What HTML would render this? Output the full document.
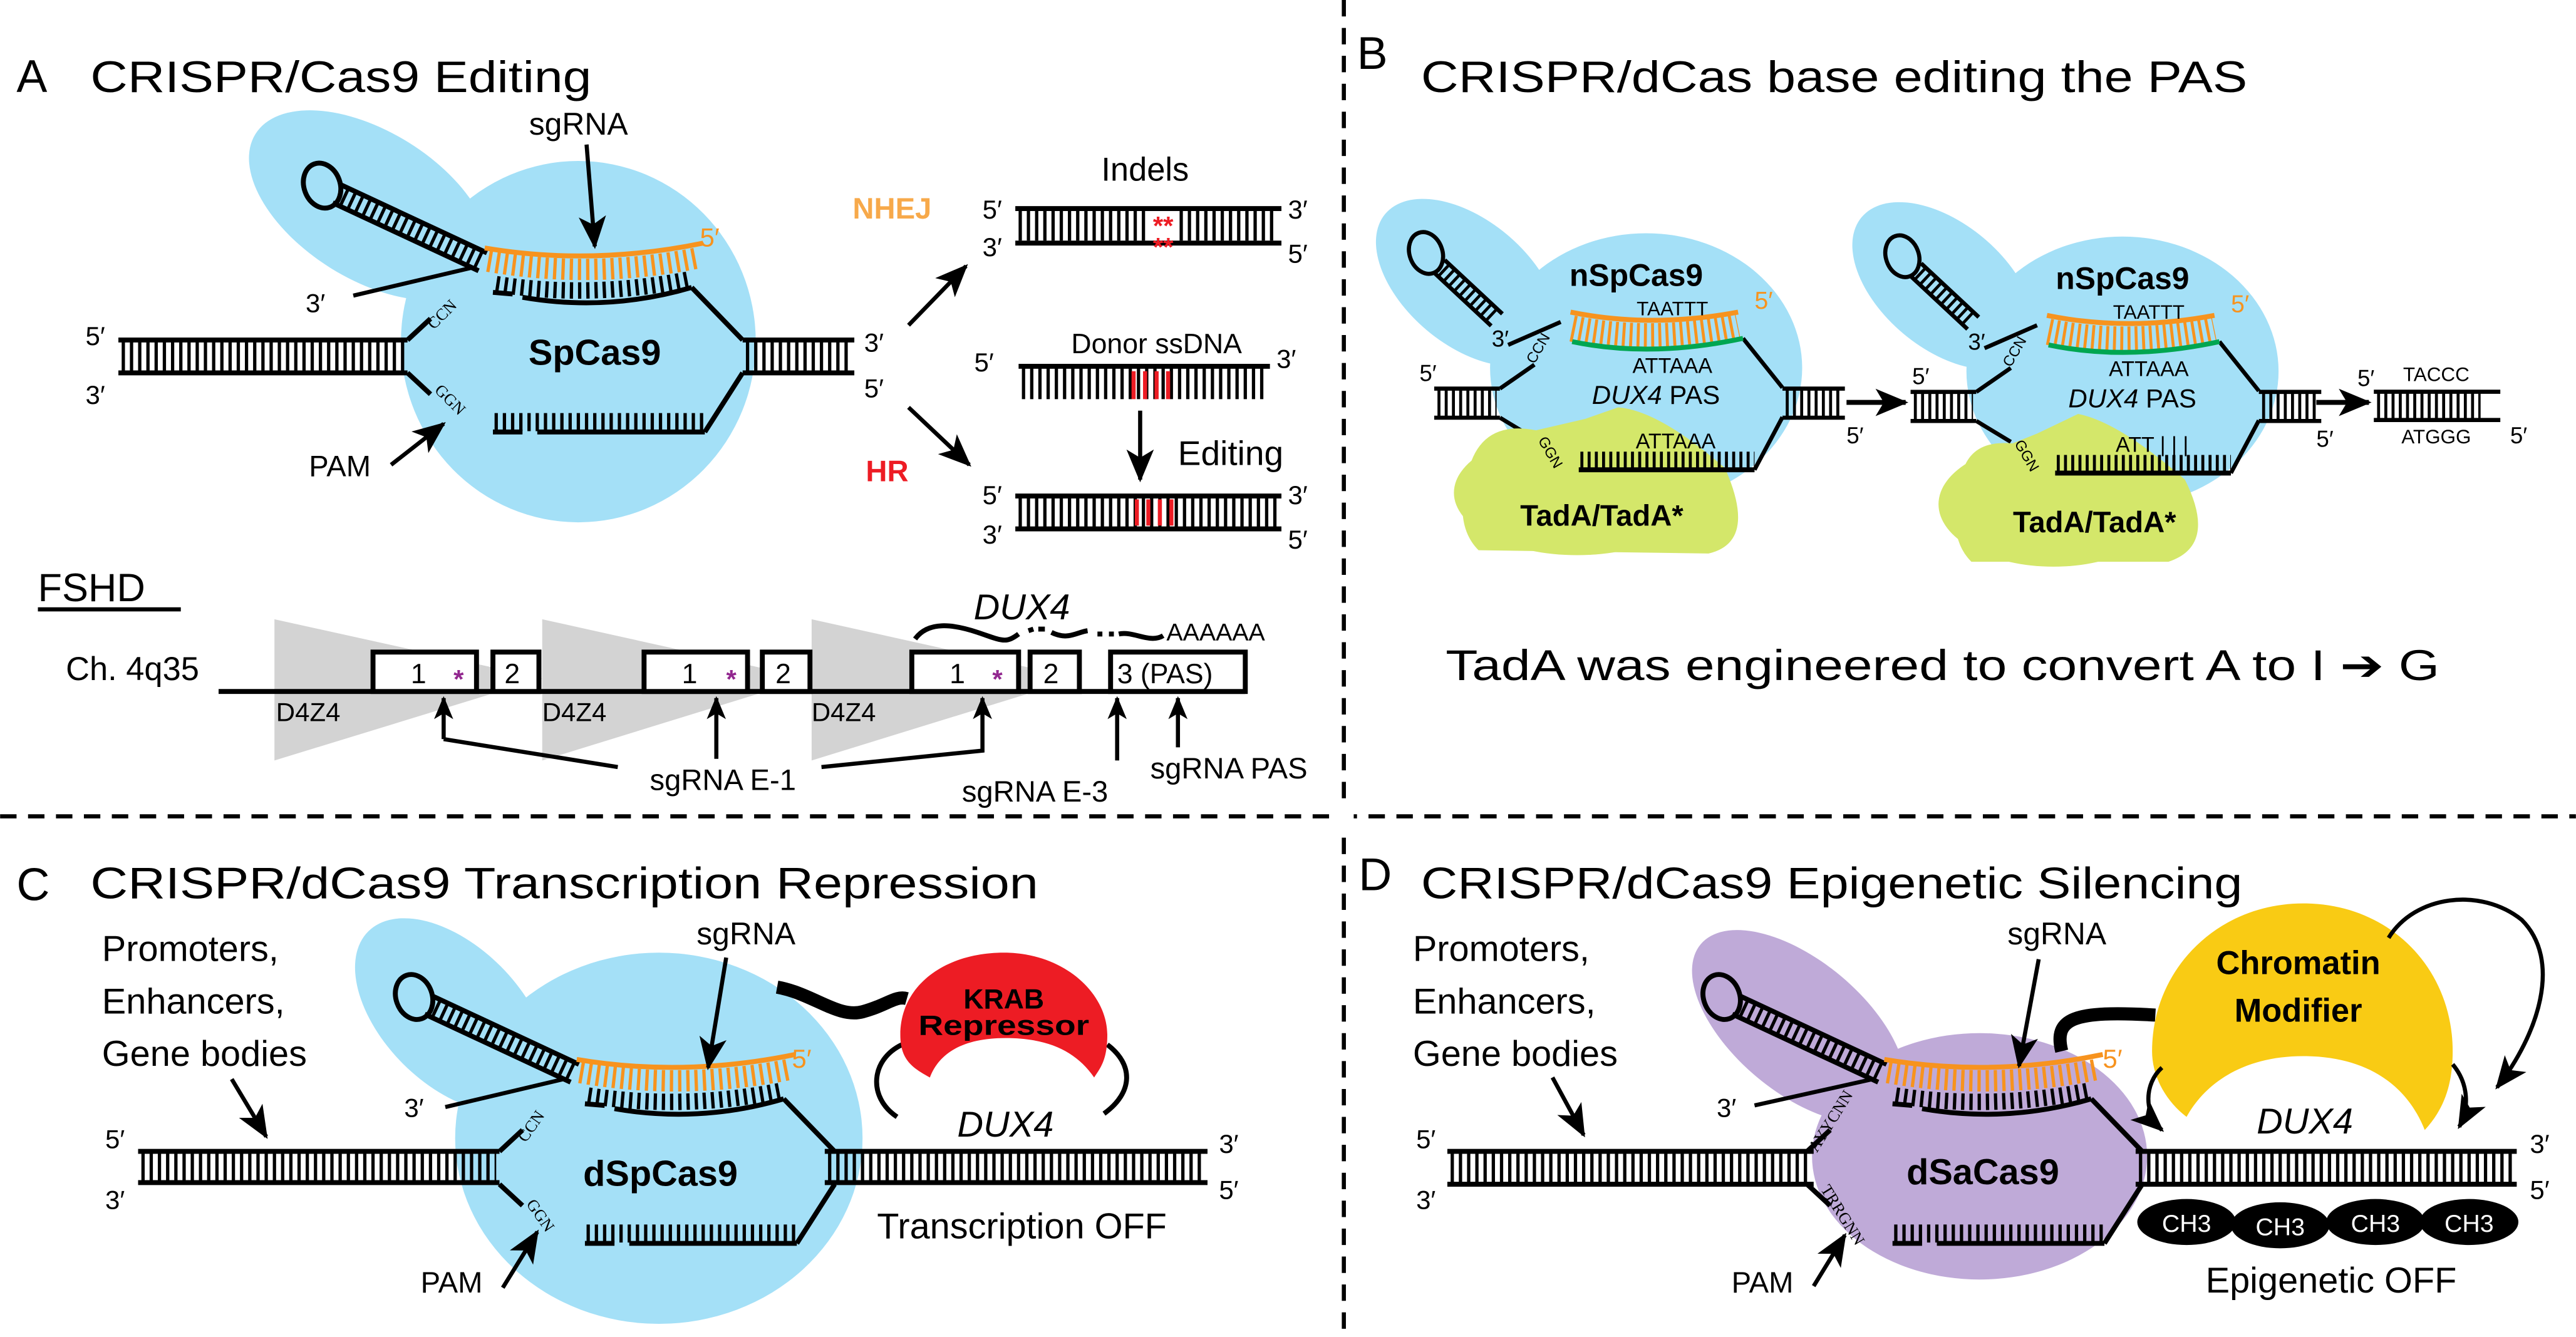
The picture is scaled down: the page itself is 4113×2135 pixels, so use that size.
<!DOCTYPE html>
<html><head><meta charset="utf-8"><style>
html,body{margin:0;padding:0;background:#fff;}
svg{display:block;font-family:"Liberation Sans",Arial,sans-serif;}
</style></head><body>
<svg width="4113" height="2135" viewBox="0 0 1568 814" xmlns="http://www.w3.org/2000/svg">
<defs>
<marker id="a" viewBox="0 0 12 10" refX="11" refY="5" markerWidth="14" markerHeight="12" markerUnits="userSpaceOnUse" orient="auto"><path d="M0,0 L12,5 L0,10 L3,5z" fill="#000"/></marker>
<marker id="ab" viewBox="0 0 12 10" refX="11" refY="5" markerWidth="20" markerHeight="18" markerUnits="userSpaceOnUse" orient="auto"><path d="M0,0 L12,5 L0,10 L3,5z" fill="#000"/></marker>
<g id="core" fill="none" stroke="#000" stroke-width="3">
  <ellipse cx="196" cy="113" rx="11" ry="14" transform="rotate(-20 196 113)"/>
  <g transform="translate(205,118) rotate(25)">
    <line x1="0" y1="-6" x2="98" y2="-6"/><line x1="0" y1="6" x2="98" y2="6"/>
    <line x1="4" y1="0" x2="96" y2="0" stroke-width="11" stroke-dasharray="2 3"/>
  </g>
  <path d="M295,151 Q360,162 428,148" stroke="#f7931e"/>
  <path d="M297,159 Q360,170 425,157" stroke="#f7931e" stroke-width="13" stroke-dasharray="2 3"/>
  <path d="M302,173 Q360,182 420,170" stroke-width="10" stroke-dasharray="2 3"/>
  <line x1="300" y1="178" x2="312" y2="179"/>
  <path d="M318,181 Q370,190 421,175"/>
  <line x1="421" y1="175" x2="452" y2="207"/>
  <line x1="248" y1="207" x2="262" y2="194"/>
  <line x1="248" y1="227" x2="262" y2="240"/>
  <line x1="300" y1="263" x2="318" y2="263"/>
  <line x1="327" y1="263" x2="429" y2="263"/>
  <line x1="301" y1="257" x2="429" y2="257" stroke-width="11" stroke-dasharray="2 3"/>
  <line x1="429" y1="263" x2="452" y2="227"/>
</g>
</defs>

<line x1="818" y1="0" x2="818" y2="814" stroke="#000" stroke-width="2.5" stroke-dasharray="10 7"/>
<line x1="0" y1="497" x2="1568" y2="497" stroke="#000" stroke-width="2.5" stroke-dasharray="10 7"/>
<rect x="812" y="490" width="12" height="14" fill="#fff"/>

<!-- ============ PANEL A ============ -->
<text x="10" y="56" font-size="28">A</text>
<text x="55" y="56" font-size="27" textLength="305" lengthAdjust="spacingAndGlyphs">CRISPR/Cas9 Editing</text>
<ellipse cx="352" cy="208" rx="108" ry="110" fill="#a4e0f7"/>
<ellipse cx="225" cy="125" rx="82" ry="45" transform="rotate(32 225 125)" fill="#a4e0f7"/>
<use href="#core"/>
<g stroke="#000" fill="none" stroke-width="3">
<line x1="72" y1="207" x2="248" y2="207"/><line x1="72" y1="227" x2="248" y2="227"/>
<line x1="74" y1="217" x2="246" y2="217" stroke-width="20" stroke-dasharray="2 3"/>
<line x1="452" y1="207" x2="520" y2="207"/><line x1="452" y1="227" x2="520" y2="227"/>
<line x1="454" y1="217" x2="518" y2="217" stroke-width="20" stroke-dasharray="2 3"/>
<line x1="215" y1="180" x2="287" y2="163" stroke-width="2.5"/>
<line x1="357" y1="88" x2="362" y2="150" stroke-width="2.5" marker-end="url(#ab)"/>
<line x1="238" y1="283" x2="270" y2="258" stroke-width="2.5" marker-end="url(#ab)"/>
<line x1="553" y1="198" x2="588" y2="162" stroke-width="2.5" marker-end="url(#ab)"/>
<line x1="553" y1="248" x2="590" y2="283" stroke-width="2.5" marker-end="url(#ab)"/>
<line x1="694" y1="250" x2="694" y2="292" stroke-width="2.5" marker-end="url(#ab)"/>
</g>
<text x="322" y="82" font-size="19">sgRNA</text>
<text x="426" y="150" font-size="16" fill="#f7931e">5′</text>
<text x="186" y="190" font-size="16">3′</text>
<text x="52" y="210" font-size="16">5′</text>
<text x="52" y="246" font-size="16">3′</text>
<text x="526" y="214" font-size="16">3′</text>
<text x="526" y="242" font-size="16">5′</text>
<text x="264" y="201" font-size="10" font-family="Liberation Serif" transform="rotate(-45 264 201)">CCN</text>
<text x="264" y="238" font-size="10" font-family="Liberation Serif" transform="rotate(45 264 238)">GGN</text>
<text x="362" y="222" font-size="22" font-weight="bold" text-anchor="middle">SpCas9</text>
<text x="188" y="290" font-size="18">PAM</text>
<text x="519" y="133" font-size="18" font-weight="bold" fill="#f7a94a">NHEJ</text>
<text x="527" y="293" font-size="18" font-weight="bold" fill="#ed1c24">HR</text>
<text x="697" y="110" font-size="20" text-anchor="middle">Indels</text>
<g stroke="#000" stroke-width="3" fill="none">
<line x1="618" y1="127" x2="780" y2="127"/><line x1="618" y1="148" x2="780" y2="148"/>
<line x1="620" y1="137.5" x2="698" y2="137.5" stroke-width="18" stroke-dasharray="2 3"/>
<line x1="718" y1="137.5" x2="778" y2="137.5" stroke-width="18" stroke-dasharray="2 3"/>
<line x1="620" y1="223" x2="773" y2="223"/>
<line x1="622" y1="233" x2="772" y2="233" stroke-width="20" stroke-dasharray="2 3"/>
<line x1="618" y1="302" x2="780" y2="302"/><line x1="618" y1="322" x2="780" y2="322"/>
<line x1="620" y1="312" x2="778" y2="312" stroke-width="18" stroke-dasharray="2 3"/>
</g>
<text x="708" y="143" font-size="16" fill="#ed1c24" text-anchor="middle" font-weight="bold">**</text>
<text x="708" y="156" font-size="16" fill="#ed1c24" text-anchor="middle" font-weight="bold">**</text>
<g stroke="#ed1c24" stroke-width="2.5"><line x1="690" y1="226" x2="690" y2="243"/><line x1="697" y1="226" x2="697" y2="243"/><line x1="704" y1="226" x2="704" y2="243"/><line x1="711" y1="226" x2="711" y2="243"/>
<line x1="692" y1="304" x2="692" y2="320"/><line x1="699" y1="304" x2="699" y2="320"/><line x1="706" y1="304" x2="706" y2="320"/><line x1="713" y1="304" x2="713" y2="320"/></g>
<text x="598" y="133" font-size="16">5′</text><text x="598" y="156" font-size="16">3′</text>
<text x="784" y="133" font-size="16">3′</text><text x="784" y="160" font-size="16">5′</text>
<text x="704" y="215" font-size="17" text-anchor="middle">Donor ssDNA</text>
<text x="593" y="226" font-size="16">5′</text><text x="777" y="224" font-size="16">3′</text>
<text x="717" y="283" font-size="21">Editing</text>
<text x="598" y="307" font-size="16">5′</text><text x="598" y="331" font-size="16">3′</text>
<text x="784" y="307" font-size="16">3′</text><text x="784" y="334" font-size="16">5′</text>
<text x="23" y="366" font-size="24">FSHD</text>
<line x1="23" y1="371" x2="110" y2="371" stroke="#000" stroke-width="2.5"/>
<text x="40" y="414" font-size="20">Ch. 4q35</text>
<g fill="#d3d3d3"><path d="M167,377 L167,463 L330,413 Z"/><path d="M330,377 L330,463 L492,413 Z"/><path d="M494,377 L494,463 L656,413 Z"/></g>
<line x1="133" y1="421" x2="758" y2="421" stroke="#000" stroke-width="3"/>
<g fill="#fff" stroke="#000" stroke-width="3">
<rect x="227" y="397" width="63" height="24"/><rect x="300" y="397" width="28" height="24"/>
<rect x="392" y="397" width="63" height="24"/><rect x="464" y="397" width="29" height="24"/>
<rect x="555" y="397" width="65" height="24"/><rect x="627" y="397" width="30" height="24"/>
<rect x="676" y="397" width="82" height="24"/>
</g>
<g font-size="17"><text x="250" y="416">1</text><text x="307" y="416">2</text><text x="415" y="416">1</text><text x="472" y="416">2</text><text x="578" y="416">1</text><text x="635" y="416">2</text><text x="680" y="416">3 (PAS)</text></g>
<g font-size="16" fill="#92278f" font-weight="bold"><text x="276" y="419">*</text><text x="442" y="419">*</text><text x="604" y="419">*</text></g>
<g font-size="16"><text x="168" y="439">D4Z4</text><text x="330" y="439">D4Z4</text><text x="494" y="439">D4Z4</text></g>
<text x="622" y="377" font-size="22" font-style="italic" text-anchor="middle">DUX4</text>
<path d="M557,389 C565,378 580,380 595,385 S612,392 620,386 M626,384 l3,-1 M632,383 l4,0 M640,385 C650,390 655,385 662,384 M668,386 l3,0 M675,386 l3,0 M681,386 C690,384 700,392 708,387" fill="none" stroke="#000" stroke-width="3"/>
<text x="710" y="390" font-size="15">AAAAAA</text>
<g stroke="#000" stroke-width="2.5" fill="none">
<path d="M270,450 L270,425" marker-end="url(#a)"/>
<path d="M270,450 L376,467"/>
<path d="M436,462 L436,425" marker-end="url(#a)"/>
<path d="M500,467 L598,457 L598,425" marker-end="url(#a)"/>
<path d="M680,463 L680,425" marker-end="url(#a)"/>
<path d="M717,455 L717,425" marker-end="url(#a)"/>
</g>
<text x="440" y="481" font-size="18" text-anchor="middle">sgRNA E-1</text>
<text x="630" y="488" font-size="18" text-anchor="middle">sgRNA E-3</text>
<text x="748" y="474" font-size="18" text-anchor="middle">sgRNA PAS</text>

<!-- ============ PANEL B ============ -->
<text x="826" y="42" font-size="28">B</text>
<text x="865" y="56" font-size="27" textLength="503" lengthAdjust="spacingAndGlyphs">CRISPR/dCas base editing the PAS</text>
<g id="bcx">
<ellipse cx="1002" cy="224" rx="95" ry="82" fill="#a4e0f7"/>
<ellipse cx="893" cy="172" rx="65" ry="38" transform="rotate(40 893 172)" fill="#a4e0f7"/>
<g fill="none" stroke="#000" stroke-width="2.5">
<ellipse cx="868" cy="154" rx="10" ry="13" transform="rotate(-20 868 154)"/>
<g transform="translate(876,162) rotate(43)"><line x1="0" y1="-5" x2="48" y2="-5"/><line x1="0" y1="5" x2="48" y2="5"/><line x1="3" y1="0" x2="47" y2="0" stroke-width="9" stroke-dasharray="1.8 2.6"/></g>
<line x1="913" y1="236.6" x2="934" y2="222"/><line x1="913" y1="254.3" x2="934" y2="267"/>
<line x1="873" y1="236.6" x2="913" y2="236.6"/><line x1="873" y1="254.3" x2="913" y2="254.3"/>
<line x1="875" y1="245.5" x2="911" y2="245.5" stroke-width="17" stroke-dasharray="1.8 2.6"/>
<line x1="1085" y1="236.6" x2="1123" y2="236.6"/><line x1="1085" y1="254.3" x2="1123" y2="254.3"/>
<line x1="1087" y1="245.5" x2="1121" y2="245.5" stroke-width="17" stroke-dasharray="1.8 2.6"/>
<line x1="1061" y1="206" x2="1085" y2="236"/><line x1="1068" y1="286" x2="1085" y2="254"/>
<line x1="918" y1="210" x2="950" y2="196"/>
</g>
</g>
<ellipse cx="960" cy="300" rx="75" ry="38" fill="#d4e76a"/>
<path d="M893,290 Q900,255 935,262 L965,255 L985,248 Q1010,250 1050,285 Q1070,330 1040,337 L900,335 Q885,320 893,290Z" fill="#d4e76a"/>
<g fill="none" stroke-width="3">
<path d="M956,190 Q1005,200 1058,190" stroke="#f7931e"/>
<path d="M957,200 Q1005,210 1058,199" stroke="#f7931e" stroke-width="16" stroke-dasharray="1.8 2.6"/>
<path d="M957,208 Q1005,218 1061,206" stroke="#00a651"/>
<line x1="961" y1="286" x2="1068" y2="286" stroke="#000"/>
<line x1="962" y1="280" x2="1068" y2="280" stroke="#000" stroke-width="10" stroke-dasharray="1.8 2.6"/>
</g>
<text x="996" y="174" font-size="19" font-weight="bold" text-anchor="middle">nSpCas9</text>
<text x="1018" y="192" font-size="12" text-anchor="middle">TAATTT</text>
<text x="1068" y="188" font-size="15" fill="#f7931e">5′</text>
<text x="1018" y="227" font-size="13" text-anchor="middle">ATTAAA</text>
<text x="1008" y="246" font-size="16" text-anchor="middle"><tspan font-style="italic">DUX4</tspan> PAS</text>
<text x="1020" y="273" font-size="13" text-anchor="middle">ATTAAA</text>
<text x="975" y="320" font-size="18" font-weight="bold" text-anchor="middle">TadA/TadA*</text>
<text x="908" y="211" font-size="14">3′</text>
<text x="864" y="232" font-size="14">5′</text>
<text x="934" y="222" font-size="9" transform="rotate(-60 934 222)">CCN</text>
<text x="936" y="268" font-size="9" transform="rotate(60 936 268)">GGN</text>
<g transform="translate(290,2)">
<use href="#bcx"/>
<ellipse cx="960" cy="305" rx="70" ry="38" fill="#d4e76a"/>
<path d="M903,295 Q905,265 935,268 L950,262 L975,250 Q1000,255 1040,290 Q1060,330 1030,340 L910,340 Q895,325 903,295Z" fill="#d4e76a"/>
<g fill="none" stroke-width="3">
<path d="M956,190 Q1005,200 1058,190" stroke="#f7931e"/>
<path d="M957,200 Q1005,210 1058,199" stroke="#f7931e" stroke-width="16" stroke-dasharray="1.8 2.6"/>
<path d="M957,208 Q1005,218 1061,206" stroke="#00a651"/>
<line x1="961" y1="286" x2="1068" y2="286" stroke="#000"/>
<line x1="962" y1="280" x2="1068" y2="280" stroke="#000" stroke-width="10" stroke-dasharray="1.8 2.6"/>
</g>
<text x="1002" y="174" font-size="19" font-weight="bold" text-anchor="middle">nSpCas9</text>
<text x="1018" y="192" font-size="12" text-anchor="middle">TAATTT</text>
<text x="1068" y="188" font-size="15" fill="#f7931e">5′</text>
<text x="1018" y="227" font-size="13" text-anchor="middle">ATTAAA</text>
<text x="1008" y="246" font-size="16" text-anchor="middle"><tspan font-style="italic">DUX4</tspan> PAS</text>
<text x="1020" y="273" font-size="13" text-anchor="middle">ATT | | |</text>
<text x="985" y="322" font-size="18" font-weight="bold" text-anchor="middle">TadA/TadA*</text>
<text x="908" y="211" font-size="14">3′</text>
<text x="874" y="232" font-size="14">5′</text>
<text x="934" y="222" font-size="9" transform="rotate(-60 934 222)">CCN</text>
<text x="936" y="268" font-size="9" transform="rotate(60 936 268)">GGN</text>
</g>
<g stroke="#000" stroke-width="3"><line x1="1124" y1="245" x2="1160" y2="245" marker-end="url(#ab)"/><line x1="1410" y1="245" x2="1442" y2="245" marker-end="url(#ab)"/></g>
<text x="1124" y="270" font-size="14">5′</text>
<text x="1410" y="272" font-size="14">5′</text>
<g stroke="#000" stroke-width="2.5" fill="none">
<line x1="1445" y1="238.5" x2="1522" y2="238.5"/><line x1="1445" y1="255.7" x2="1522" y2="255.7"/>
<line x1="1447" y1="247" x2="1510" y2="247" stroke-width="16" stroke-dasharray="1.8 2.6"/>
</g>
<text x="1483" y="232" font-size="12" text-anchor="middle">TACCC</text>
<text x="1483" y="270" font-size="12" text-anchor="middle">ATGGG</text>
<text x="1435" y="235" font-size="14">5′</text>
<text x="1528" y="270" font-size="14">5′</text>
<text x="880" y="414" font-size="26" textLength="605" lengthAdjust="spacingAndGlyphs">TadA was engineered to convert A to I ➔ G</text>

<!-- ============ PANEL C ============ -->
<text x="10" y="548" font-size="28">C</text>
<text x="55" y="547" font-size="27" textLength="577" lengthAdjust="spacingAndGlyphs">CRISPR/dCas9 Transcription Repression</text>
<ellipse cx="401" cy="693" rx="124" ry="113" fill="#a4e0f7"/>
<ellipse cx="275" cy="618" rx="72" ry="42" transform="rotate(45 275 618)" fill="#a4e0f7"/>
<use href="#core" transform="translate(56,494)"/>
<g stroke="#000" fill="none" stroke-width="3">
<line x1="84" y1="701" x2="304" y2="701"/><line x1="84" y1="720" x2="304" y2="720"/>
<line x1="86" y1="710.5" x2="302" y2="710.5" stroke-width="19" stroke-dasharray="2 3"/>
<line x1="502" y1="701" x2="735" y2="701"/><line x1="502" y1="720" x2="735" y2="720"/>
<line x1="504" y1="710.5" x2="733" y2="710.5" stroke-width="19" stroke-dasharray="2 3"/>
<line x1="271" y1="674" x2="343" y2="657" stroke-width="2.5"/>
<line x1="442" y1="583" x2="431" y2="650" stroke-width="2.5" marker-end="url(#ab)"/>
<line x1="141" y1="657" x2="162" y2="692" stroke-width="2.5" marker-end="url(#ab)"/>
<line x1="306" y1="784" x2="327" y2="750" stroke-width="2.5" marker-end="url(#ab)"/>
<path d="M473,601 C495,605 510,620 525,616 C540,612 545,606 552,608" stroke-width="8"/>
<path d="M549,636 C530,645 528,668 546,680"/>
<path d="M674,636 C690,648 690,665 672,678"/>
</g>
<path d="M548,630 C548,600 575,580 611,580 C648,580 674,605 674,630 C674,645 670,650 666,656 C655,640 638,632 612,632 C588,632 572,640 566,656 C555,650 548,645 548,630Z" fill="#ed1c24"/>
<text x="611" y="614" font-size="17" font-weight="bold" text-anchor="middle">KRAB</text>
<text x="611" y="630" font-size="17" font-weight="bold" text-anchor="middle" textLength="104" lengthAdjust="spacingAndGlyphs">Repressor</text>
<text x="62" y="585" font-size="22">Promoters,</text>
<text x="62" y="617" font-size="22">Enhancers,</text>
<text x="62" y="649" font-size="22">Gene bodies</text>
<text x="424" y="575" font-size="19">sgRNA</text>
<text x="482" y="650" font-size="16" fill="#f7931e">5′</text>
<text x="246" y="680" font-size="16">3′</text>
<text x="64" y="699" font-size="16">5′</text><text x="64" y="736" font-size="16">3′</text>
<text x="742" y="702" font-size="16">3′</text><text x="742" y="730" font-size="16">5′</text>
<text x="320" y="696" font-size="10" font-family="Liberation Serif" transform="rotate(-55 320 696)">CCN</text>
<text x="320" y="733" font-size="10" font-family="Liberation Serif" transform="rotate(55 320 733)">GGN</text>
<text x="402" y="722" font-size="22" font-weight="bold" text-anchor="middle">dSpCas9</text>
<text x="256" y="787" font-size="18">PAM</text>
<text x="612" y="692" font-size="22" font-style="italic" text-anchor="middle">DUX4</text>
<text x="622" y="754" font-size="22" text-anchor="middle">Transcription OFF</text>

<!-- ============ PANEL D ============ -->
<text x="827" y="542" font-size="28">D</text>
<text x="865" y="547" font-size="27" textLength="500" lengthAdjust="spacingAndGlyphs">CRISPR/dCas9 Epigenetic Silencing</text>
<ellipse cx="1205" cy="704" rx="102" ry="75" fill="#bfaad8"/>
<ellipse cx="1095" cy="625" rx="78" ry="40" transform="rotate(40 1095 625)" fill="#bfaad8"/>
<use href="#core" transform="translate(852,494)"/>
<g stroke="#000" fill="none" stroke-width="3">
<line x1="881" y1="701" x2="1104" y2="701"/><line x1="881" y1="721" x2="1104" y2="721"/>
<line x1="883" y1="711" x2="1102" y2="711" stroke-width="20" stroke-dasharray="2 3"/>
<line x1="1300" y1="701" x2="1532" y2="701"/><line x1="1300" y1="721" x2="1532" y2="721"/>
<line x1="1302" y1="711" x2="1530" y2="711" stroke-width="20" stroke-dasharray="2 3"/>
<line x1="1068" y1="673" x2="1140" y2="657" stroke-width="2.5"/>
<line x1="1241" y1="584" x2="1229" y2="649" stroke-width="2.5" marker-end="url(#ab)"/>
<line x1="945" y1="656" x2="964" y2="691" stroke-width="2.5" marker-end="url(#ab)"/>
<line x1="1104" y1="783" x2="1123" y2="752" stroke-width="2.5" marker-end="url(#ab)"/>
<path d="M1255,640 C1250,620 1262,615 1312,618" stroke-width="8"/>
</g>
<path d="M1310,640 C1310,590 1350,550 1402,550 C1455,550 1493,590 1493,640 C1493,660 1488,675 1476,688 C1465,660 1440,643 1402,643 C1365,643 1342,660 1331,680 C1318,670 1310,655 1310,640Z" fill="#f9cb14"/>
<g stroke="#000" fill="none" stroke-width="2.5">
<path d="M1454,571 C1470,545 1510,540 1535,560 C1560,585 1545,630 1520,662" marker-end="url(#ab)"/>
<path d="M1316,650 C1305,660 1305,678 1316,688" marker-end="url(#ab)"/>
<path d="M1493,648 C1503,660 1503,675 1497,686" marker-end="url(#ab)"/>
</g>
<text x="1399" y="593" font-size="20" font-weight="bold" text-anchor="middle">Chromatin</text>
<text x="1399" y="622" font-size="20" font-weight="bold" text-anchor="middle">Modifier</text>
<text x="860" y="585" font-size="22">Promoters,</text>
<text x="860" y="617" font-size="22">Enhancers,</text>
<text x="860" y="649" font-size="22">Gene bodies</text>
<text x="1222" y="575" font-size="19">sgRNA</text>
<text x="1280" y="650" font-size="16" fill="#f7931e">5′</text>
<text x="1045" y="680" font-size="16">3′</text>
<text x="862" y="699" font-size="16">5′</text><text x="862" y="736" font-size="16">3′</text>
<text x="1540" y="702" font-size="16">3′</text><text x="1540" y="730" font-size="16">5′</text>
<text x="1106" y="702" font-size="10" font-family="Liberation Serif" transform="rotate(-58 1106 702)">AYYCNN</text>
<text x="1108" y="724" font-size="10" font-family="Liberation Serif" transform="rotate(58 1108 724)">TRRGNN</text>
<text x="1207" y="721" font-size="22" font-weight="bold" text-anchor="middle">dSaCas9</text>
<text x="1054" y="787" font-size="18">PAM</text>
<text x="1403" y="690" font-size="22" font-style="italic" text-anchor="middle">DUX4</text>
<g fill="#000"><ellipse cx="1331" cy="744" rx="30" ry="14"/><ellipse cx="1388" cy="746" rx="30" ry="14"/><ellipse cx="1446" cy="744" rx="30" ry="14"/><ellipse cx="1503" cy="744" rx="30" ry="14"/></g>
<g fill="#fff" font-size="15" text-anchor="middle"><text x="1331" y="750">CH3</text><text x="1388" y="752">CH3</text><text x="1446" y="750">CH3</text><text x="1503" y="750">CH3</text></g>
<text x="1419" y="787" font-size="22" text-anchor="middle">Epigenetic OFF</text>
</svg>
</body></html>
